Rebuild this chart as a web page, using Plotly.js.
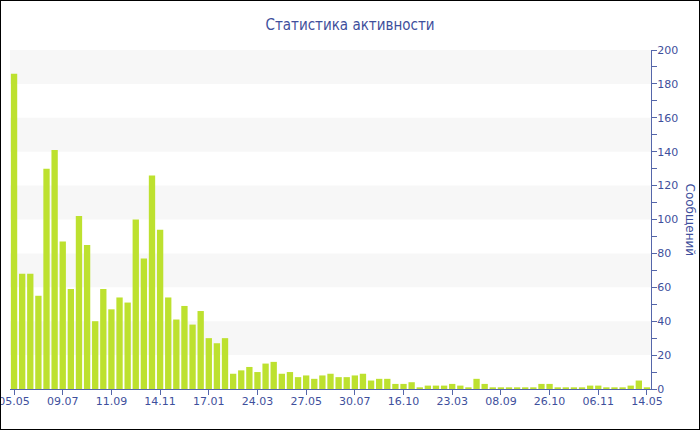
<!DOCTYPE html>
<html>
<head>
<meta charset="utf-8">
<script src="https://cdn.plot.ly/plotly-3.0.1.min.js"></script>
<style>
  html, body { margin: 0; padding: 0; background: #fff; }
  #wrap { position: relative; width: 700px; height: 430px; }
  #chart { width: 700px; height: 430px; }
  #frame { position: absolute; left: 0; top: 0; width: 700px; height: 430px; box-sizing: border-box; border: 1px solid #000; pointer-events: none; }
</style>
</head>
<body>
<div id="wrap"><div id="chart"></div><div id="frame"></div></div>
<script>
// Messages per period
const messages = [
  186, 68, 68, 55, 130, 141, 87, 59, 102, 85,
  40, 59, 47, 54, 51, 100, 77, 126, 94, 54,
  41, 49, 38, 46, 30, 27, 30, 9, 11, 13,
  10, 15, 16, 9, 10, 7, 8, 6, 8, 9,
  7, 7, 8, 9, 5, 6, 6, 3, 3, 4,
  1, 2, 2, 2, 3, 2, 1, 6, 3, 1,
  1, 1, 1, 1, 1, 3, 3, 1, 1, 1,
  1, 2, 2, 1, 1, 1, 2, 5, 1
];
// Tick labels shown under every 6th bar
const tickLabels = ['05.05', '09.07', '11.09', '14.11', '17.01', '24.03', '27.05',
                    '30.07', '16.10', '23.03', '08.09', '26.10', '06.11', '14.05'];
const tickStep = 6;
const titleText = 'Статистика активности';
const yTitle = 'Сообщений';

const xIdx = messages.map((_, i) => i);
const tickVals = tickLabels.map((_, k) => k * tickStep);

const textColor = '#3e4f9c';
const axisColor = '#5566aa';
const font = 'DejaVu Sans, Verdana, sans-serif';
const titleFont = 'DejaVu Sans Condensed, DejaVu Sans, sans-serif';

const bands = [];
for (let v = 20; v < 200; v += 40) {
  bands.push({type: 'rect', xref: 'paper', yref: 'y', x0: 0, x1: 1, y0: v, y1: v + 20,
              fillcolor: '#f7f7f7', line: {width: 0}, layer: 'below'});
}

const data = [{
  type: 'bar',
  x: xIdx,
  y: messages,
  marker: {color: '#bde12f', line: {width: 0}},
  hoverinfo: 'y'
}];

const layout = {
  width: 700, height: 430,
  margin: {l: 10, r: 49, t: 50, b: 41},
  paper_bgcolor: '#fff', plot_bgcolor: '#fff',
  font: {family: font, color: textColor, size: 11},
  title: {text: titleText, font: {family: titleFont, size: 15, color: textColor},
          x: 0.5, xanchor: 'center', xref: 'container', y: 1 - 25/430, yref: 'container', yanchor: 'middle'},
  bargap: 0.22,
  showlegend: false,
  xaxis: {
    range: [-0.5, messages.length - 0.5],
    tickmode: 'array', tickvals: tickVals, ticktext: tickLabels,
    ticks: 'outside', ticklen: 5, tickcolor: axisColor, tickwidth: 1,
    ticklabeloverflow: 'allow', ticklabelstandoff: -3,
    showline: true, linecolor: axisColor, linewidth: 1,
    showgrid: false, zeroline: false,
    tickfont: {family: font, size: 11, color: textColor}
  },
  yaxis: {
    side: 'right',
    range: [0, 200], dtick: 20, tick0: 0,
    ticks: 'outside', ticklen: 5, tickcolor: axisColor, tickwidth: 1,
    ticklabelstandoff: -2,
    minor: {dtick: 10, ticks: 'outside', ticklen: 5, tickcolor: axisColor, showgrid: false},
    showline: true, linecolor: axisColor, linewidth: 1,
    showgrid: false, zeroline: false,
    tickfont: {family: font, size: 11, color: textColor}
  },
  shapes: bands,
  annotations: [{
    text: yTitle, xref: 'paper', yref: 'paper', x: 1, y: 0.5,
    xanchor: 'center', yanchor: 'middle', xshift: 39, textangle: 90,
    showarrow: false, font: {family: font, size: 12, color: textColor}
  }]
};

Plotly.newPlot('chart', data, layout, {displayModeBar: false, staticPlot: true});
</script>
</body>
</html>
